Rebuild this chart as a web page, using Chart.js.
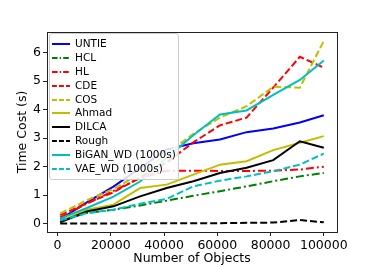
<!DOCTYPE html>
<html lang="en">
<head>
<meta charset="UTF-8">
<script src="https://cdn.jsdelivr.net/npm/chart.js"></script>
<title>Time cost</title>
<style>
  body { margin: 0; background: #fff; }
  .wrap { position: relative; width: 374px; height: 267px; }
  .legenda {
    position: absolute; left: 49px; top: 33px; width: 128px;
    padding: 3px 0 3px 0; background: rgba(255,255,255,0.85);
    border: 1px solid #ccc; border-radius: 3px;
    font-family: "DejaVu Sans", sans-serif; font-size: 10.5px; color: #000;
  }
  .item { height: 13.9px; line-height: 13.9px; white-space: nowrap; }
  .item svg { vertical-align: middle; margin: 0 5px 0 2px; }
</style>
</head>
<body>
<div class="wrap">
  <canvas id="grafico" width="374" height="267"></canvas>
  <div class="legenda" id="legenda"></div>
</div>

<script>
// dados
const objetos = [1000, 11000, 21000, 31000, 41000, 51000, 61000, 71000, 81000, 91000, 100000]
const xTicks = [0, 20000, 40000, 60000, 80000, 100000]
const yTicks = [0, 1, 2, 3, 4, 5, 6]
const nomes = ['UNTIE', 'HCL', 'HL', 'CDE', 'COS', 'Ahmad', 'DILCA', 'Rough', 'BiGAN_WD (1000s)', 'VAE_WD (1000s)']

const untie = [0.15, 0.75, 1.3, 1.95, 2.6, 2.82, 2.95, 3.21, 3.34, 3.55, 3.8]
const hcl = [0.1, 0.38, 0.49, 0.64, 0.81, 0.98, 1.14, 1.31, 1.49, 1.66, 1.78]
const hl = [0.22, 0.7, 1.15, 1.6, 1.86, 1.86, 1.85, 1.85, 1.86, 1.9, 2.0]
const cde = [0.3, 0.72, 1.1, 1.62, 2.15, 2.85, 3.45, 3.72, 4.77, 5.85, 5.47]
const cos = [0.36, 0.82, 1.22, 1.75, 2.45, 3.15, 3.72, 4.12, 4.8, 4.77, 6.41]
const ahmad = [0.08, 0.49, 0.67, 1.25, 1.37, 1.72, 2.07, 2.19, 2.58, 2.84, 3.07]
const dilca = [0.05, 0.43, 0.61, 0.96, 1.25, 1.49, 1.78, 1.96, 2.23, 2.89, 2.66]
const rough = [0.01, 0.01, 0.01, 0.01, 0.02, 0.02, 0.02, 0.03, 0.04, 0.13, 0.05]
const bigan = [0.18, 0.55, 0.95, 1.48, 2.3, 3.1, 3.83, 3.97, 4.52, 5.04, 5.72]
const vae = [0.12, 0.37, 0.49, 0.7, 0.87, 1.31, 1.51, 1.66, 1.84, 2.07, 2.46]

const series = [untie, hcl, hl, cde, cos, ahmad, dilca, rough, bigan, vae]

// estilos (cor, traço)
const tracejado = [7, 3]
const tracoPonto = [8, 3, 2, 3]
const estilos = [
  { cor: '#0000ff', dash: [] },
  { cor: '#008000', dash: tracoPonto },
  { cor: '#ff0000', dash: tracoPonto },
  { cor: '#ff0000', dash: tracejado },
  { cor: '#bfbf00', dash: tracejado },
  { cor: '#bfbf00', dash: [] },
  { cor: '#000000', dash: [] },
  { cor: '#000000', dash: tracejado },
  { cor: '#00bfbf', dash: [] },
  { cor: '#00bfbf', dash: tracejado }
]

const datasets = series.map((valores, i) => ({
  label: nomes[i],
  data: valores.map((v, j) => ({ x: objetos[j], y: v })),
  borderColor: estilos[i].cor,
  backgroundColor: estilos[i].cor,
  borderDash: estilos[i].dash,
  borderWidth: 2,
  pointRadius: 0,
  tension: 0,
  fill: false,
  order: series.length - i
}))

const moldura = {
  id: 'moldura',
  afterDraw(chart) {
    const a = chart.chartArea
    const ctx = chart.ctx
    ctx.save()
    ctx.strokeStyle = '#222'
    ctx.lineWidth = 1
    ctx.strokeRect(Math.round(a.left) + 0.5, Math.round(a.top) + 0.5, Math.round(a.right - a.left), Math.round(a.bottom - a.top))
    ctx.restore()
  }
}

Chart.defaults.font.family = '"DejaVu Sans", sans-serif'
Chart.defaults.color = '#000'

new Chart(document.getElementById('grafico'), {
  type: 'line',
  data: { datasets: datasets },
  plugins: [moldura],
  options: {
    responsive: false,
    animation: false,
    layout: { padding: { left: 0, top: 32, right: 37, bottom: 0 } },
    plugins: { legend: { display: false }, tooltip: { enabled: false } },
    scales: {
      x: {
        type: 'linear',
        min: -3950,
        max: 104950,
        afterBuildTicks: (s) => { s.ticks = xTicks.map(v => ({ value: v })) },
        afterFit: (s) => { s.height = 35 },
        grid: { drawOnChartArea: false, tickLength: 4, color: '#222' },
        border: { display: true, color: '#222' },
        ticks: { font: { size: 12.5 }, padding: 2, maxRotation: 0, autoSkip: false, callback: (v) => String(v) },
        title: { display: true, text: 'Number of Objects', font: { size: 12.5 }, padding: { top: 0, bottom: 1 } }
      },
      y: {
        min: -0.29,
        max: 6.72,
        afterBuildTicks: (s) => { s.ticks = yTicks.map(v => ({ value: v })) },
        afterFit: (s) => { s.width = 47 },
        grid: { drawOnChartArea: false, tickLength: 4, color: '#222' },
        border: { display: true, color: '#222' },
        ticks: { font: { size: 12.5 }, padding: 2, callback: (v) => String(v) },
        title: { display: true, text: 'Time Cost (s)', font: { size: 12.5 }, padding: { top: 15, bottom: 0 } }
      }
    }
  }
})

// legenda em html, dentro da área do gráfico
const legenda = document.getElementById('legenda')
nomes.forEach((nome, i) => {
  const e = estilos[i]
  const div = document.createElement('div')
  div.className = 'item'
  div.innerHTML = `<svg width="18" height="6"><line x1="0" y1="3" x2="18" y2="3" stroke="${e.cor}" stroke-width="2" stroke-dasharray="${e.dash.length ? e.dash.map(d => d * 0.7).join(',') : 'none'}"/></svg>${nome}`
  legenda.appendChild(div)
})
</script>
</body>
</html>
